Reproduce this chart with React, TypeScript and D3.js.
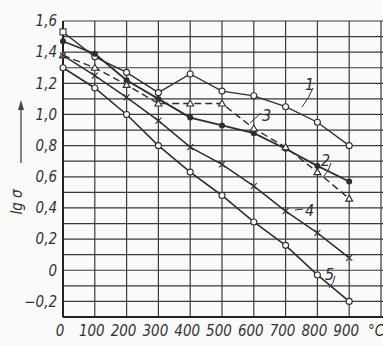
import * as d3 from "d3";

const temps = [0, 100, 200, 300, 400, 500, 600, 700, 800, 900];
const curve1 = [1.53, 1.37, 1.27, 1.14, 1.26, 1.15, 1.12, 1.05, 0.95, 0.8];
const curve2 = [1.47, 1.39, 1.22, 1.1, 0.98, 0.93, 0.88, 0.78, 0.67, 0.57];
const curve3 = [1.38, 1.3, 1.19, 1.07, 1.07, 1.07, 0.91, 0.79, 0.63, 0.46];
const curve4 = [1.38, 1.25, 1.11, 0.96, 0.79, 0.68, 0.54, 0.38, 0.24, 0.08];
const curve5 = [1.3, 1.17, 1.0, 0.8, 0.63, 0.48, 0.31, 0.16, -0.03, -0.2];

const xTicks = [0, 100, 200, 300, 400, 500, 600, 700, 800, 900];
const yTicks = [1.6, 1.4, 1.2, 1.0, 0.8, 0.6, 0.4, 0.2, 0, -0.2];

const W = 383, H = 346;
const ink = "#2e2e2e";
const font = "'DejaVu Sans Condensed', 'Liberation Sans Narrow', sans-serif";

const x = d3.scaleLinear().domain([0, 1000]).range([63, 381]);
const y = d3.scaleLinear().domain([-0.3, 1.6]).range([317, 21]);

const line = d3.line<number>().x((_, i) => x(temps[i])).y(d => y(d));

const fmt = (v: number) => (v === 0 ? "0" : (v < 0 ? "\u2212" : "") + Math.abs(v).toFixed(1).replace(".", ","));

type Marker = "circle" | "dot" | "tri" | "cross";

function Mark({ kind, cx, cy }: { kind: Marker; cx: number; cy: number }) {
  if (kind === "circle") return <circle cx={cx} cy={cy} r={3} fill="#fafaf8" stroke={ink} strokeWidth={1.1} />;
  if (kind === "dot") return <circle cx={cx} cy={cy} r={3} fill={ink} />;
  if (kind === "tri")
    return <path d={`M${cx},${cy - 3.5}L${cx + 3.5},${cy + 2.5}L${cx - 3.5},${cy + 2.5}Z`} fill="#fafaf8" stroke={ink} strokeWidth={1.1} />;
  return <path d={`M${cx - 3},${cy - 3}L${cx + 3},${cy + 3}M${cx + 3},${cy - 3}L${cx - 3},${cy + 3}`} stroke={ink} strokeWidth={1.1} />;
}

const series: { data: number[]; kind: Marker; dash?: string; w: number }[] = [
  { data: curve1, kind: "circle", w: 1.3 },
  { data: curve2, kind: "dot", w: 1.8 },
  { data: curve3, kind: "tri", dash: "7,4", w: 1.4 },
  { data: curve4, kind: "cross", w: 1.5 },
  { data: curve5, kind: "circle", w: 1.6 },
];

export default function App() {
  const gridY = d3.range(-3, 17).map(d => d / 10);
  const gridX = d3.range(0, 1100, 100);
  return (
    <svg width={W} height={H} style={{ position: "absolute", left: 0, top: 0, background: "#fafaf8" }}>
      <rect width={W} height={H} fill="#fafaf8" />
      <g stroke="#3a3a3a" strokeWidth={1.2}>
        {gridY.map(v => (
          <line key={"h" + v} x1={x(0)} x2={W} y1={y(v)} y2={y(v)} />
        ))}
        {gridX.map(v => (
          <line key={"v" + v} x1={x(v)} x2={x(v)} y1={y(1.6)} y2={y(-0.3)} />
        ))}
      </g>
      <line x1={x(0)} x2={x(0)} y1={y(1.6)} y2={y(-0.3)} stroke="#222" strokeWidth={2} />
      <line x1={x(0)} x2={W} y1={y(-0.3)} y2={y(-0.3)} stroke="#222" strokeWidth={2} />

      {series.map((s, si) => (
        <g key={si}>
          <path d={line(s.data) || ""} fill="none" stroke={ink} strokeWidth={s.w} strokeDasharray={s.dash} />
          {s.data.map((v, i) =>
            si === 0 && i === 0 ? (
              <rect key={i} x={x(temps[i]) - 3} y={y(v) - 3} width={6} height={6} fill="#fafaf8" stroke={ink} strokeWidth={1.1} />
            ) : (
              <Mark key={i} kind={s.kind} cx={x(temps[i])} cy={y(v)} />
            )
          )}
        </g>
      ))}

      {/* curve labels with leaders */}
      <g fontFamily={font} fontStyle="italic" fontSize={16} fill={ink} stroke="none">
        <text x={305} y={90}>1</text>
        <text x={262} y={121}>3</text>
        <text x={321} y={166}>2</text>
        <text x={305} y={216}>4</text>
        <text x={325} y={280}>5</text>
      </g>
      <g fill="none" stroke={ink} strokeWidth={1}>
        <path d="M313,88 Q309,98 302,107" />
        <path d="M261,113 L250,123" />
        <path d="M331,163 Q329,171 324,176" />
        <path d="M303,209 L295,210" />
        <path d="M335,276 Q334,283 329,288" />
      </g>

      <g fontFamily={font} fontStyle="italic" fontSize={15} fill="#333">
        {yTicks.map(v => (
          <text key={v} x={57} y={y(v)} dy="0.35em" textAnchor="end">{fmt(v)}</text>
        ))}
        {xTicks.map(v => (
          <text key={v} x={x(v) - 3} y={336} textAnchor="middle">{v}</text>
        ))}
        <text x={376} y={336} textAnchor="middle">°C</text>
      </g>

      <text transform="translate(22,202) rotate(-90)" fontFamily={font} fontStyle="italic" fontSize={15} fill="#333" textAnchor="middle">lg σ</text>
      <line x1={21} x2={21} y1={163} y2={106} stroke="#444" strokeWidth={1.3} />
      <path d="M21,100 L18,110 L24,110 Z" fill="#444" />
    </svg>
  );
}
